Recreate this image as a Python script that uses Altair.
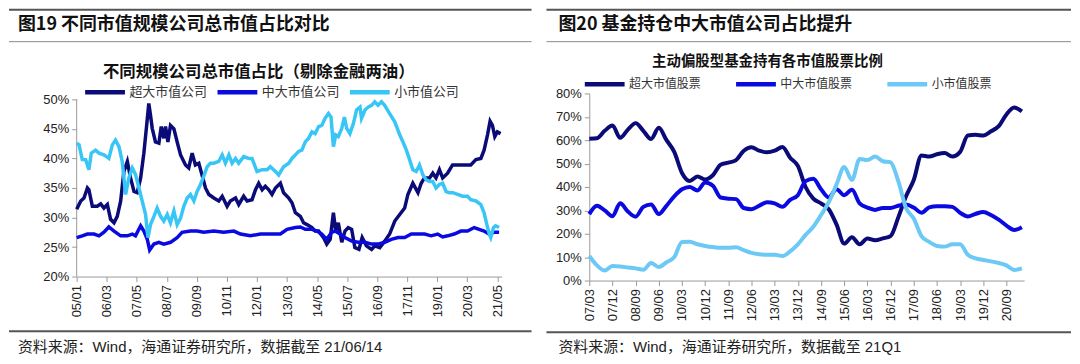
import altair as alt
import pandas as pd

CJK = "Noto Sans CJK SC"
LAT = "Liberation Sans"
MIX = "Liberation Sans, Noto Sans CJK SC"

# ---------------- Left chart data (x = months since 2005-01, values in %) ----------------
L_TICK_LABELS = ["05/01", "06/03", "07/05", "08/07", "09/09", "10/11", "12/01", "13/03",
                 "14/05", "15/07", "16/09", "17/11", "19/01", "20/03", "21/05"]
L_SERIES = ["超大市值公司", "中大市值公司", "小市值公司"]
L_COLORS = ["#0b0b78", "#0a0ae0", "#38c6f6"]
L_Y_TICKS = [20, 25, 30, 35, 40, 45, 50]

L_SUPER_M = [0, 1.9, 3.4, 5, 5.7, 7.3, 9.6, 11.2, 12.7, 14.3,
             15.8, 17.4, 18.9, 20.5, 22, 23.6, 25.1, 26.7, 28.2, 29.8,
             31.3, 32.6, 33.6, 34.4, 35.2, 36.7, 38.3, 39.4, 40.6, 41.4,
             42.5, 43.7, 45.3, 46.8, 48.4, 50.7, 52.2, 53.8, 55.3, 56.9,
             58.4, 60, 61.6, 63.9, 66.2, 67.8, 70.1, 71.6, 74, 75.5,
             77.8, 79.4, 81.7, 83.3, 84.8, 86.4, 87.9, 89.5, 91, 92.6,
             94.9, 96.4, 98.8, 100.3, 101.9, 104.2, 105.7, 107.3, 109.6, 111.1,
             112.7, 115, 116.5, 118.1, 119.6, 120.7, 121.9, 123.5, 125, 126.5,
             128.1, 129.6, 131.5, 133, 135, 137.4, 138.9, 141.2, 143.5, 145.8,
             148.2, 150.5, 152.8, 154.3, 156.6, 159, 160.5, 162, 164.4, 165.9,
             167.4, 169, 170.5, 172.8, 175.1, 177.5, 180.5, 183.6, 186, 188.3,
             189.8, 191.4, 192.6, 193.7, 194.8, 196, 197.5]
L_SUPER_V = [31.4, 32.8, 33.3, 35, 34.7, 31.9, 31.9, 32.3, 31.6, 32.2,
             29.7, 29.1, 30.2, 32.8, 37.8, 39.5, 36.7, 34.4, 34.2, 36.7,
             40.9, 45.6, 49.3, 47.3, 45.1, 42.8, 42.6, 45.4, 43.4, 45.4,
             42.8, 45.6, 45, 42.8, 40.6, 38.9, 38.4, 40.9, 38.9, 39.2,
             37.2, 35, 33.9, 33.3, 32.8, 33.6, 31.9, 32.8, 33.3, 32.2,
             33.6, 32.8, 33, 34.7, 35.8, 34.7, 35.3, 34.7, 33.9, 35,
             35.8, 34.2, 33.3, 32.5, 30.8, 30.2, 29.1, 28.8, 28.3, 27.7,
             27.7, 26.6, 25.5, 26.3, 30.8, 27.7, 29.1, 25.8, 27.7, 28.3,
             28, 24.9, 24.6, 26.6, 25.2, 24.6, 25.2, 24.9, 26, 27.2,
             29.4, 30.5, 31.6, 33.9, 35.8, 34.2, 35.8, 36.7, 36.7, 37.5,
             36.7, 38.1, 36.7, 37.5, 38.9, 38.9, 38.9, 38.9, 39.8, 40,
             41.4, 44, 46.3, 45.6, 43.7, 44.5, 44.2]

L_MID_M = [0, 2.6, 5, 8.1, 10.4, 12.7, 15, 17.4, 20.5, 23.6,
           25.9, 27.4, 29.8, 31.3, 32.9, 34, 36, 38.3, 40.6, 43.7,
           46.8, 49.1, 53, 56.1, 59.2, 63.9, 68.5, 73.2, 76.3, 80.9,
           85.6, 90.2, 94.9, 98, 101.9, 104.2, 106.5, 109.6, 111.9, 114.2,
           116.5, 118.8, 120.4, 122.7, 125, 128.1, 131.2, 134.3, 137.4, 140.4,
           143.5, 146.6, 149.7, 152.8, 155.9, 159, 162.1, 165.1, 168.2, 170.5,
           172.8, 175.9, 179, 182.1, 185.2, 187.5, 189.8, 192.1, 194.4, 196.8]
L_MID_V = [26.6, 26.9, 27.2, 27.2, 26.9, 27.5, 28.4, 27.7, 26.9, 26.9,
           27.2, 26.9, 28.6, 27.7, 26.3, 24.5, 25.5, 25.8, 25.5, 25.8,
           26.6, 27.5, 27.7, 27.7, 27.5, 27.7, 27.5, 27.7, 27.2, 26.9,
           27.2, 27.2, 27.2, 28, 28.3, 28.4, 28, 28, 27.7, 27.2,
           26.3, 27.5, 27.7, 27.2, 26.6, 26, 25.8, 25.8, 25.5, 25.5,
           25.8, 26.3, 26.6, 26.6, 27.2, 27.2, 27.2, 26.9, 27.2, 26.7,
           26.9, 27.2, 27.7, 27.7, 28.3, 28, 27.7, 27.2, 27.5, 27.5]

L_SMALL_M = [0, 1.1, 2.6, 4.2, 5.7, 6.8, 8.8, 10.4, 12.7, 15,
             16.6, 18.1, 19.7, 21.2, 22, 22.8, 24.3, 25.9, 27.4, 29,
             30.5, 32.1, 33.2, 34.4, 36, 37.5, 39.1, 40.6, 42.2, 43.7,
             45.3, 46.8, 48.4, 49.9, 51.5, 53, 54.6, 56.1, 57.7, 59.2,
             60.8, 62.3, 63.9, 66.2, 67.8, 69.3, 70.9, 72.4, 74, 75.5,
             77.8, 80.2, 81.7, 84, 86.4, 88.7, 90.2, 92.6, 94.1, 96.4,
             98.8, 100.3, 101.9, 103.4, 104.9, 106.5, 108, 109.6, 111.1, 112.7,
             114.2, 115.7, 117.3, 118.5, 119.6, 120.7, 121.9, 123.5, 124.7, 125.8,
             127.3, 128.9, 130.4, 132, 132.7, 134.3, 135.8, 137.4, 138.9, 140.4,
             142, 143.5, 145.8, 148.2, 150.5, 152, 153.6, 155.1, 156.6, 158.2,
             159.7, 161.3, 162.8, 164.4, 165.9, 167.4, 169, 170.5, 172.1, 173.6,
             175.2, 177.5, 179.8, 182.1, 183.6, 186, 188.3, 189.8, 191.1, 192.2,
             192.9, 194.2, 195.2, 196.8]
L_SMALL_V = [42.6, 42.3, 39.8, 39.8, 38.1, 40.9, 41.4, 40.9, 40.6, 40,
             42.3, 43.1, 42, 39.5, 36.7, 33.9, 36.7, 38.4, 37.3, 35,
             32.8, 30.5, 26.6, 28.8, 30.2, 31.6, 30.2, 29.4, 30.5, 29.1,
             31.1, 28.8, 29.9, 31.9, 33.3, 33.9, 32.8, 34.4, 35.6, 37,
             38.6, 39.2, 39.2, 39.5, 40.6, 39.2, 40.6, 39.2, 40, 39.2,
             40.3, 40, 40, 37.8, 38.1, 38.1, 38.6, 37.8, 37.2, 38.6,
             39.2, 40, 40.6, 41.2, 41.4, 42.8, 43.4, 44.5, 44.2, 45.4,
             45.6, 46.8, 47.6, 47, 42, 44, 43.7, 45.1, 47, 45.1,
             44.2, 45.9, 48.2, 48.7, 46.8, 48.2, 48.7, 49, 49.6, 49,
             49.6, 49, 47.6, 46.2, 44, 42.8, 41.4, 39.8, 38.1, 37.8,
             38.9, 37.2, 36.4, 36.1, 36.1, 35, 35.6, 35.8, 34.4, 34.2,
             34.2, 33.9, 33.6, 33.6, 33, 32.8, 32.2, 30.8, 28.8, 27.2,
             26.6, 28.3, 28.6, 28.3]

# ---------------- Right chart data (quarterly from 07Q1 to 21Q1, values in %) ----------------
R_TICK_LABELS = ["07/03", "07/12", "08/09", "09/06", "10/03", "10/12", "11/09", "12/06",
                 "13/03", "13/12", "14/09", "15/06", "16/03", "16/12", "17/09", "18/06",
                 "19/03", "19/12", "20/09"]
R_SERIES = ["超大市值股票", "中大市值股票", "小市值股票"]
R_COLORS = ["#0b0b78", "#0a0ae0", "#6cc8f5"]
R_Y_TICKS = [0, 10, 20, 30, 40, 50, 60, 70, 80]
R_SUPER = [60.6, 60.8, 64, 66.3, 61, 64.5, 67.3, 64, 60.5, 65.3,
           60, 55, 46, 42.6, 44.5, 43.2, 45, 49.5, 50.4, 51.5,
           55.5, 57, 55.5, 54.8, 55.5, 57.1, 52.5, 49, 40, 35,
           33, 30.5, 24, 15.8, 18.5, 15.5, 18, 17.2, 18, 19,
           27, 36, 43, 53.5, 53, 54, 54.5, 53, 55, 62,
           62.3, 62, 63.8, 66, 71, 74, 72.3]
R_MID = [28.4, 32, 30, 27.5, 33, 29.5, 27.3, 31.5, 32.5, 28.4,
         32, 36, 39, 40, 38.5, 41.9, 40.5, 35.5, 35, 34.8,
         31, 30.5, 32, 33.5, 33, 31.5, 34.5, 36.5, 42.5, 43.5,
         39, 35.5, 39, 36.5, 38.8, 33, 31.2, 30.2, 31, 31,
         32, 32.5, 31.2, 29, 31.3, 31.8, 31.8, 31.5, 29, 27.4,
         28.5, 29.3, 28, 26, 23.5, 21.6, 22.8]
R_SMALL = [10.5, 6.5, 4.3, 6.2, 6, 5.6, 5.2, 4.6, 7.5, 5.8,
           7.8, 10, 16.5, 16.6, 15.5, 14.8, 14.3, 14, 14, 14.2,
           13, 11.8, 11.2, 11, 11, 10.5, 12.5, 15.5, 19.5, 23,
           28, 33.5, 41, 48.5, 43, 52, 51.5, 53, 51, 50.5,
           42.5, 31, 26.5, 19, 16.5, 14.8, 14.5, 15.5, 15.5, 11,
           9.5, 8.8, 8.2, 7.5, 6.5, 4.5, 5.2]

# ---------------- Build tables ----------------
rows = []
for name, ms, vs in zip(L_SERIES, [L_SUPER_M, L_MID_M, L_SMALL_M], [L_SUPER_V, L_MID_V, L_SMALL_V]):
    for m, v in zip(ms, vs):
        rows.append({"m": m, "v": v / 100.0, "s": name})
left_df = pd.DataFrame(rows)

rows = []
for name, vs in zip(R_SERIES, [R_SUPER, R_MID, R_SMALL]):
    for i, v in enumerate(vs):
        rows.append({"q": i, "v": v / 100.0, "s": name})
right_df = pd.DataFrame(rows)

one = pd.DataFrame({"k": [0]})


def rule(x1, x2, y, color, w):
    return alt.Chart(one).mark_rule(color=color, strokeWidth=w).encode(
        x=alt.value(x1), x2=alt.value(x2), y=alt.value(y))


def label(text, x, y, size, weight="normal", align="left", color="#222", font=CJK):
    return alt.Chart(one).mark_text(
        text=text, align=align, baseline="middle", fontSize=size, fontWeight=weight,
        font=font, color=color).encode(x=alt.value(x), y=alt.value(y))


def js_list(items):
    return "[" + ",".join("'" + s + "'" for s in items) + "]"


AX = dict(labelFont=LAT, labelFontSize=13, labelColor="#222", domainColor="#9a9a9a",
          tickColor="#9a9a9a", tickSize=5, grid=False, title=None, labelPadding=3)

# ---------------- Left panel ----------------
LW, LH = 427, 184
L_YDOM = [0.2, 0.2 + 184 / 593.3]
left_y = alt.Y("v:Q", scale=alt.Scale(domain=L_YDOM, nice=False, zero=False),
               axis=alt.Axis(values=[t / 100 for t in L_Y_TICKS], format=".0%", domain=False, **AX))

left_lines = alt.Chart(left_df).mark_line(strokeWidth=3.5).encode(
    x=alt.X("m:Q", scale=alt.Scale(domain=[0, 198], nice=False, zero=False),
            axis=alt.Axis(values=[14 * i for i in range(len(L_TICK_LABELS))],
                          labelExpr=js_list(L_TICK_LABELS) + "[round(datum.value/14)]",
                          labelAngle=270, labelOverlap=False, **AX)),
    y=left_y,
    color=alt.Color("s:N", scale=alt.Scale(domain=L_SERIES, range=L_COLORS),
                    legend=alt.Legend(orient="none", legendX=6, legendY=-24, direction="horizontal",
                                      title=None, symbolType="stroke", symbolSize=1600,
                                      symbolStrokeWidth=4.5, labelFont=CJK, labelFontSize=13,
                                      labelColor="#333", columnPadding=0, padding=0, labelOffset=2)),
)

# y-axis line running from the lowest to the highest tick
left_axis_line = alt.Chart(pd.DataFrame({"v": [L_Y_TICKS[0] / 100], "v2": [L_Y_TICKS[-1] / 100]})).mark_rule(
    color="#9a9a9a", strokeWidth=1).encode(x=alt.value(0), y=left_y, y2="v2:Q")

left = alt.layer(
    rule(-68, 457, -84, "#555555", 2),
    label("图19 不同市值规模公司总市值占比对比", -59, -69, 18, weight="bold", color="#111"),
    rule(-68, 457, -52, "#8a8a8a", 1),
    label("不同规模公司总市值占比（剔除金融两油）", 183, -21, 16.5, weight="bold", align="center", color="#111"),
    left_axis_line,
    left_lines,
    rule(-68, 457, 239, "#555555", 2),
    label("资料来源：Wind，海通证券研究所，数据截至 21/06/14", -59, 255, 15, font=MIX, color="#222"),
).properties(width=LW, height=LH)

# ---------------- Right panel ----------------
RW, RH = 437, 188
right_lines = alt.Chart(right_df).mark_line(strokeWidth=4, interpolate="monotone").encode(
    x=alt.X("q:Q", scale=alt.Scale(domain=[0, 56.3], nice=False, zero=False),
            axis=alt.Axis(values=[3 * i for i in range(len(R_TICK_LABELS))],
                          labelExpr=js_list(R_TICK_LABELS) + "[round(datum.value/3)]",
                          labelAngle=270, labelOverlap=False, **AX)),
    y=alt.Y("v:Q", scale=alt.Scale(domain=[0, 0.8], nice=False, zero=False),
            axis=alt.Axis(values=[t / 100 for t in R_Y_TICKS], format=".0%", **AX)),
    color=alt.Color("s:N", scale=alt.Scale(domain=R_SERIES, range=R_COLORS),
                    legend=alt.Legend(orient="none", legendX=-7, legendY=-32, direction="horizontal",
                                      title=None, symbolType="stroke", symbolSize=1600,
                                      symbolStrokeWidth=4.5, labelFont=CJK, labelFontSize=12,
                                      labelColor="#333", columnPadding=25, padding=0, labelOffset=2)),
)

right = alt.layer(
    rule(-43, 484, -84, "#555555", 2),
    label("图20 基金持仓中大市值公司占比提升", -31, -69, 18, weight="bold", color="#111"),
    rule(-43, 484, -52, "#8a8a8a", 1),
    label("主动偏股型基金持有各市值股票比例", 179, -32, 14.5, weight="bold", align="center", color="#111"),
    right_lines,
    rule(-43, 484, 240, "#555555", 2),
    label("资料来源：Wind，海通证券研究所，数据截至 21Q1", -31, 255, 15, font=MIX, color="#222"),
).properties(width=RW, height=RH)

chart = alt.hconcat(left, right, spacing=13, padding={"left": 0, "top": 0, "right": 0, "bottom": 0}).resolve_scale(
    color="independent", x="independent", y="independent"
).resolve_legend(color="independent").configure_view(stroke=None)

chart.save("out.html", embed_options={"renderer": "svg", "actions": False})
